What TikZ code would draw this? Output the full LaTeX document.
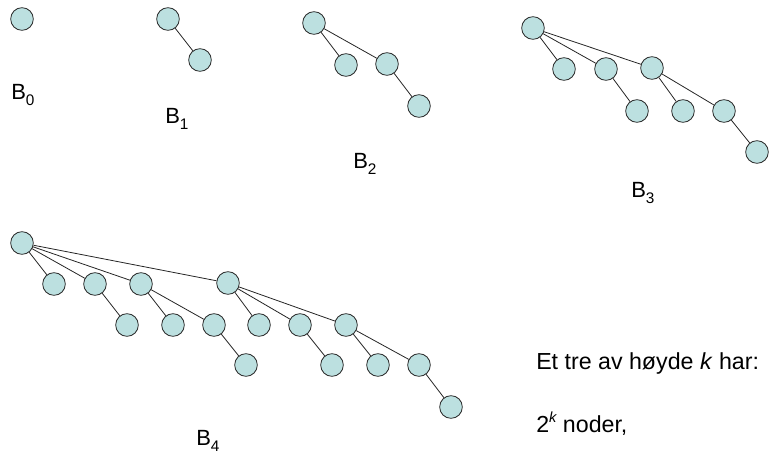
\documentclass[tikz,border=0pt]{standalone}
\usepackage{fontspec}
\setmainfont{Liberation Sans}
\usepackage{tikz}
\usetikzlibrary{positioning}
\definecolor{NodeCyan}{HTML}{BCE0E0}
\newcommand{\Bsub}[1]{B\raisebox{-5pt}{\fontsize{11.5}{11.5}\selectfont #1}}

\begin{document}
\begin{tikzpicture}[x=0.75pt,y=-0.75pt,
  bnode/.style={circle,draw=black!85,fill=NodeCyan,line width=0.6pt,minimum size=17pt,inner sep=0pt},
  link/.style={line width=0.6pt,black!85},
  blabel/.style={anchor=base west,inner sep=0pt,font=\fontsize{16.5}{16.5}\selectfont},
  note/.style={anchor=base west,inner sep=0pt,font=\fontsize{17.4}{17.4}\selectfont}
]
\useasboundingbox (0,0) rectangle (769,454);
% B0
\node[bnode] (p0) at (22,19) {};
\node[blabel] (l0) at (11,99) {\Bsub{0}};
% B1
\node[bnode] (p1) at (168,19) {};
\node[bnode] (p1a) at (200,60) {};
\draw[link] (p1) -- (p1a);
\node[blabel] (l1) at (165,123) {\Bsub{1}};
% B2
\node[bnode] (p2) at (314,23) {};
\node[bnode] (p2a) at (346,65) {};
\node[bnode] (p2b) at (387,64) {};
\node[bnode] (p2c) at (419,106) {};
\draw[link] (p2) -- (p2a);
\draw[link] (p2) -- (p2b);
\draw[link] (p2b) -- (p2c);
\node[blabel] (l2) at (353,168) {\Bsub{2}};
% B3
\node[bnode] (p3) at (533,28) {};
\node[bnode] (p3a) at (564,69) {};
\node[bnode] (p3b) at (606,69) {};
\node[bnode] (p3c) at (652,68) {};
\node[bnode] (p3d) at (637,111) {};
\node[bnode] (p3e) at (683,111) {};
\node[bnode] (p3f) at (724,111) {};
\node[bnode] (p3g) at (757,152) {};
\draw[link] (p3) -- (p3a);
\draw[link] (p3) -- (p3b);
\draw[link] (p3) -- (p3c);
\draw[link] (p3b) -- (p3d);
\draw[link] (p3c) -- (p3e);
\draw[link] (p3c) -- (p3f);
\draw[link] (p3f) -- (p3g);
\node[blabel] (l3) at (631,197) {\Bsub{3}};
% B4
\node[bnode] (p4) at (22,243) {};
\node[bnode] (p4a) at (54,284) {};
\node[bnode] (p4b) at (95,284) {};
\node[bnode] (p4c) at (141,284) {};
\node[bnode] (p4d) at (228,283) {};
\node[bnode] (p4e) at (127,325) {};
\node[bnode] (p4f) at (173,325) {};
\node[bnode] (p4g) at (214,325) {};
\node[bnode] (p4h) at (259,325) {};
\node[bnode] (p4i) at (300,325) {};
\node[bnode] (p4j) at (346,325) {};
\node[bnode] (p4k) at (246,365) {};
\node[bnode] (p4l) at (332,365) {};
\node[bnode] (p4m) at (378,365) {};
\node[bnode] (p4n) at (419,365) {};
\node[bnode] (p4o) at (451,407) {};
\draw[link] (p4) -- (p4a);
\draw[link] (p4) -- (p4b);
\draw[link] (p4) -- (p4c);
\draw[link] (p4) -- (p4d);
\draw[link] (p4b) -- (p4e);
\draw[link] (p4c) -- (p4f);
\draw[link] (p4c) -- (p4g);
\draw[link] (p4g) -- (p4k);
\draw[link] (p4d) -- (p4h);
\draw[link] (p4d) -- (p4i);
\draw[link] (p4d) -- (p4j);
\draw[link] (p4i) -- (p4l);
\draw[link] (p4j) -- (p4m);
\draw[link] (p4j) -- (p4n);
\draw[link] (p4n) -- (p4o);
\node[blabel] (l4) at (196,445) {\Bsub{4}};
% text
\node[note] (t1) at (536,369) {Et tre av høyde \textit{k} har:};
\node[note] (t2) at (536,432) {2\raisebox{0.75ex}{\fontsize{11}{11}\selectfont\itshape k} noder,};
\end{tikzpicture}
\end{document}
